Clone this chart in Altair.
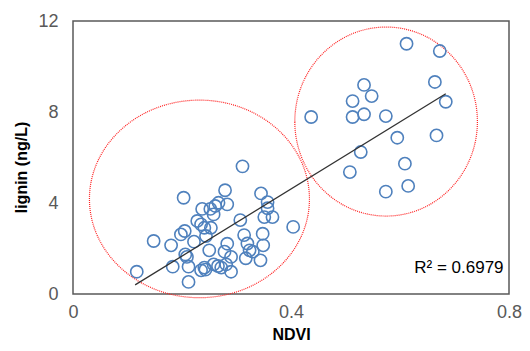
import altair as alt
import pandas as pd

# Observed points (NDVI, lignin)
ndvi = [0.612, 0.673, 0.664, 0.684, 0.534, 0.548, 0.513, 0.534, 0.513, 0.574,
        0.437, 0.595, 0.667, 0.528, 0.609, 0.508, 0.574, 0.615,
        0.311, 0.203, 0.279, 0.345, 0.357, 0.357, 0.351, 0.366, 0.237, 0.252,
        0.267, 0.283, 0.258, 0.261, 0.307, 0.404, 0.228, 0.235, 0.241, 0.253,
        0.205, 0.198, 0.244, 0.314, 0.348, 0.148, 0.180, 0.222, 0.283, 0.320,
        0.349, 0.250, 0.278, 0.324, 0.330, 0.206, 0.209, 0.290, 0.317, 0.344,
        0.183, 0.212, 0.258, 0.266, 0.281, 0.272, 0.235, 0.243, 0.290, 0.117,
        0.212, 0.241]
lignin = [11.0, 10.68, 9.32, 8.45, 9.19, 8.70, 8.48, 7.90, 7.78, 7.82,
          7.78, 6.87, 6.97, 6.24, 5.73, 5.36, 4.50, 4.75,
          5.61, 4.23, 4.56, 4.42, 4.04, 3.77, 3.38, 3.38, 3.74, 3.74,
          4.01, 3.94, 3.50, 3.87, 3.25, 2.95, 3.21, 3.06, 2.91, 2.91,
          2.77, 2.62, 2.55, 2.59, 2.65, 2.33, 2.14, 2.30, 2.21, 2.22,
          2.14, 1.92, 1.86, 1.92, 1.86, 1.74, 1.63, 1.63, 1.57, 1.48,
          1.20, 1.20, 1.30, 1.23, 1.30, 1.16, 1.04, 1.07, 0.98, 0.98,
          0.53, 1.16]

# Trend line end points
trend_x = [0.114, 0.684]
trend_y = [0.40, 8.80]

# Cluster outlines (centres)
ell_x = [0.232, 0.5745]
ell_y = [4.18, 7.58]

x_ticks = [0, 0.4, 0.8]
y_ticks = [0, 4, 8, 12]

pts = pd.DataFrame({"NDVI": ndvi, "lignin": lignin})
trend = pd.DataFrame({"NDVI": trend_x, "lignin": trend_y})
ell_left = pd.DataFrame({"NDVI": [ell_x[0]], "lignin": [ell_y[0]]})
ell_right = pd.DataFrame({"NDVI": [ell_x[1]], "lignin": [ell_y[1]]})
r2 = pd.DataFrame({"NDVI": [0.79], "lignin": [1.15], "t": ["R\u00b2 = 0.6979"]})

xs = alt.Scale(domain=[0, 0.8], nice=False)
ys = alt.Scale(domain=[0, 12], nice=False)

xenc = alt.X("NDVI:Q", scale=xs, axis=alt.Axis(
    values=x_ticks, format="~g", title="NDVI", domain=False, ticks=False, grid=False,
    labelFontSize=18, labelColor="#595959", labelFont="Liberation Sans", labelPadding=9,
    labelFlush=False, titleFontSize=16, titleFontWeight="bold", titleFont="Liberation Sans",
    titleColor="#000000", titleY=40, titleBaseline="middle"))
yenc = alt.Y("lignin:Q", scale=ys, axis=alt.Axis(
    values=y_ticks, title="lignin (ng/L)", domain=False, ticks=False, grid=False,
    labelFontSize=18, labelColor="#595959", labelFont="Liberation Sans", labelPadding=15,
    labelFlush=False, titleFontSize=16, titleFontWeight="bold", titleFont="Liberation Sans",
    titleColor="#000000", titleX=-52, titleY=146, titleAngle=270, titleBaseline="middle",
    titleAlign="center"))

points = alt.Chart(pts).mark_point(
    shape="circle", filled=False, size=150, strokeWidth=1.6, color="#4f81bd", opacity=1
).encode(x=xenc, y=yenc)

line = alt.Chart(trend).mark_line(color="#333333", strokeWidth=1.3).encode(
    x="NDVI:Q", y="lignin:Q")

left_path = "M -1 0 A 1 0.898 0 1 1 1 0 A 1 0.898 0 1 1 -1 0 Z"
right_path = "M -0.966 0 A 0.966 1 0 1 1 0.966 0 A 0.966 1 0 1 1 -0.966 0 Z"

e1 = alt.Chart(ell_left).mark_point(
    shape=left_path, size=48400, filled=False, color="#ff2020", strokeWidth=1.2,
    strokeDash=[1, 1], opacity=1, clip=False
).encode(x="NDVI:Q", y="lignin:Q")
e2 = alt.Chart(ell_right).mark_point(
    shape=right_path, size=35721, filled=False, color="#ff2020", strokeWidth=1.2,
    strokeDash=[1, 1], opacity=1, clip=False
).encode(x="NDVI:Q", y="lignin:Q")

txt = alt.Chart(r2).mark_text(
    align="right", baseline="middle", fontSize=17, font="Liberation Sans", color="#000000"
).encode(x="NDVI:Q", y="lignin:Q", text="t:N")

chart = alt.layer(e1, e2, points, line, txt).properties(
    width=436, height=273,
    autosize=alt.AutoSizeParams(type="none"),
    padding={"left": 65, "top": 13, "right": 13, "bottom": 50},
).configure_view(stroke="#595959", strokeWidth=1.5)

chart.save("out.html", embed_options={"renderer": "svg", "actions": False})
